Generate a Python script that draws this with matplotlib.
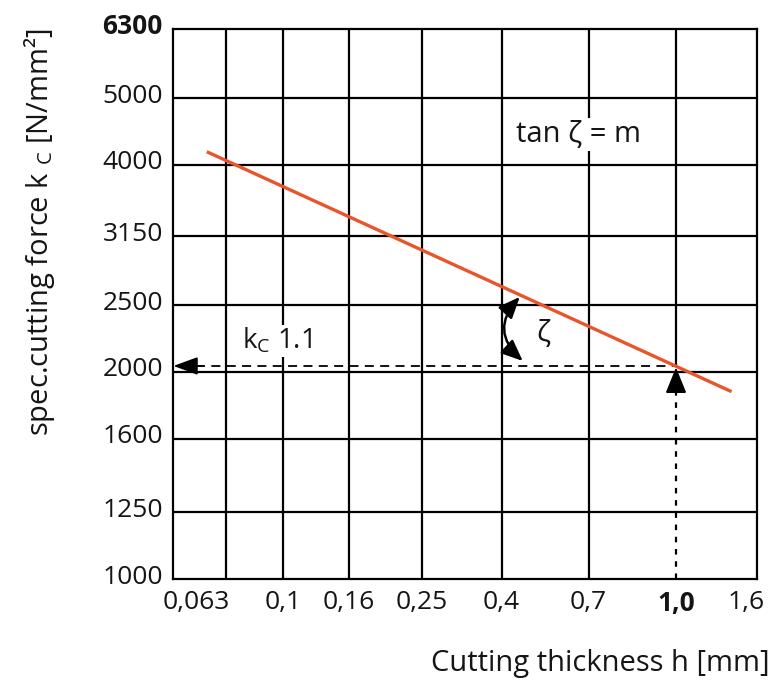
import numpy as np
import matplotlib
matplotlib.use("Agg")
import matplotlib.pyplot as plt
from matplotlib.transforms import ScaledTranslation
from matplotlib.patches import FancyArrowPatch
from matplotlib.ticker import NullLocator

plt.rcParams['font.family'] = ['Open Sans', 'DejaVu Sans']
plt.rcParams['mathtext.fontset'] = 'custom'
plt.rcParams['mathtext.rm'] = 'Open Sans'
plt.rcParams['mathtext.it'] = 'Open Sans'
plt.rcParams['mathtext.default'] = 'regular'

# ---- data ----
x_ticks = [0.063, 0.08, 0.1, 0.16, 0.25, 0.4, 0.63, 1.0, 1.6]
x_labels = ["0,063", "", "0,1", "0,16", "0,25", "0,4", "0,7", "1,0", "1,6"]
y_ticks = [1000, 1250, 1600, 2000, 2500, 3150, 4000, 5000, 6300]
y_labels = [str(v) for v in y_ticks]

h_line = [0.0734, 1.38]        # cutting thickness at the line ends [mm]
kc_line = [4178, 1872]         # specific cutting force at the line ends [N/mm²]
h_ref = 1.0                    # reference thickness
kc11 = 2040                    # kc1.1 read at h = 1 mm
zeta_top = (0.44, 2570)
zeta_bottom = (0.447, 2074)

# ---- layout: the drawn (hand-spaced) logarithmic x axis ----
x_grid_frac = np.array([0, 53.3, 110, 176, 249, 328.8, 415.8, 503.3, 584.3]) / 584.3
log_ticks = np.log10(x_ticks)


def fwd(x):
    x = np.asarray(x, dtype=float)
    with np.errstate(divide='ignore', invalid='ignore'):
        lx = np.log10(np.where(x > 0, x, np.nan))
    return np.interp(lx, log_ticks, x_grid_frac)


def inv(p):
    p = np.asarray(p, dtype=float)
    return 10 ** np.interp(p, x_grid_frac, log_ticks)


FS = 19
FL = 21
TC = '#151515'
orange = '#E8552B'

fig = plt.figure(figsize=(7.81, 6.84), dpi=100)
ax = fig.add_axes([172.7 / 781, 105 / 684, 584.3 / 781, 550 / 684])
ax.set_xscale('function', functions=(fwd, inv))
ax.set_yscale('log')
ax.set_xlim(x_ticks[0], x_ticks[-1])
ax.set_ylim(y_ticks[0], y_ticks[-1])
ax.set_xticks(x_ticks)
ax.set_xticklabels(x_labels)
ax.set_yticks(y_ticks)
ax.set_yticklabels(y_labels)
ax.xaxis.set_minor_locator(NullLocator())
ax.yaxis.set_minor_locator(NullLocator())
ax.tick_params(length=0, labelsize=FS, colors=TC)
ax.tick_params(axis='y', pad=7)
ax.tick_params(axis='x', pad=8)
for s in ax.spines.values():
    s.set_linewidth(1.6)
    s.set_color('black')

# grid lines
for v in x_ticks[1:-1]:
    if v == h_ref:
        ax.vlines(v, kc11, y_ticks[-1], color='black', lw=1.6, zorder=2)
    else:
        ax.axvline(v, color='black', lw=1.6, zorder=2)
for v in y_ticks[1:-1]:
    ax.axhline(v, color='black', lw=1.6, zorder=2)

# tick label tweaks
for lab in ax.get_yticklabels():
    lab.set_transform(lab.get_transform() + ScaledTranslation(0, 0.05, fig.dpi_scale_trans))
    if lab.get_text() == "6300":
        lab.set_fontweight('bold')
xl = ax.get_xticklabels()
xl[0].set_transform(xl[0].get_transform() + ScaledTranslation(0.24, 0, fig.dpi_scale_trans))
xl[-1].set_transform(xl[-1].get_transform() + ScaledTranslation(-0.11, 0, fig.dpi_scale_trans))
for lab in xl:
    if lab.get_text() == "1,0":
        lab.set_fontweight('bold')

# main line
ax.plot(h_line, kc_line, color=orange, lw=2.4, solid_capstyle='butt', zorder=5)

# dashed horizontal to kc1.1 with arrow
ax.plot([0.07, h_ref], [kc11, kc11], color='black', lw=1.3,
        ls=(0, (5, 3.5)), zorder=4)
ax.annotate('', xy=(0.0632, kc11), xytext=(0.072, kc11),
            arrowprops=dict(arrowstyle='-|>,head_length=15,head_width=5.5',
                            mutation_scale=1, color='black', lw=1.3,
                            shrinkA=0, shrinkB=0), zorder=6)

# dotted vertical with arrow
ax.plot([h_ref, h_ref], [y_ticks[0], kc11 * 0.96], color='black', lw=1.6,
        ls=(0, (2.5, 3)), zorder=4)
ax.annotate('', xy=(h_ref, kc11 * 0.995), xytext=(h_ref, kc11 * 0.92),
            arrowprops=dict(arrowstyle='-|>,head_length=16,head_width=6.5',
                            mutation_scale=1, color='black', lw=1.3,
                            shrinkA=0, shrinkB=0), zorder=6)

# zeta arc
arc = FancyArrowPatch(posA=zeta_top, posB=zeta_bottom,
                      arrowstyle='<|-|>,head_length=13,head_width=5.5',
                      connectionstyle='arc3,rad=0.5', mutation_scale=1,
                      color='black', lw=1.8, shrinkA=0, shrinkB=0,
                      transform=ax.transData, zorder=6)
ax.add_patch(arc)

# annotations
ax.text(0.694, 0.808, 'tan ζ = m', transform=ax.transAxes, ha='center', va='center',
        fontsize=FL, color=TC, zorder=3,
        bbox=dict(facecolor='white', edgecolor='none', pad=1.5))
ax.text(0.634, 0.446, 'ζ', transform=ax.transAxes, ha='center', va='center',
        fontsize=FL, color=TC, zorder=6)
ax.text(0.178, 0.433, 'k$_C$ 1.1', transform=ax.transAxes, ha='center', va='center',
        fontsize=20, color=TC, zorder=3,
        bbox=dict(facecolor='white', edgecolor='none', pad=1.0))

fig.text(40 / 781, 1 - 232 / 684, 'spec.cutting force k $_C$ [N/mm²]', rotation=90,
         ha='center', va='center', fontsize=FL, color=TC)
fig.text(770 / 781, 1 - 663 / 684, 'Cutting thickness h [mm]', ha='right', va='center',
         fontsize=FL, color=TC)

fig.savefig('out.png', dpi=100, facecolor='white')
